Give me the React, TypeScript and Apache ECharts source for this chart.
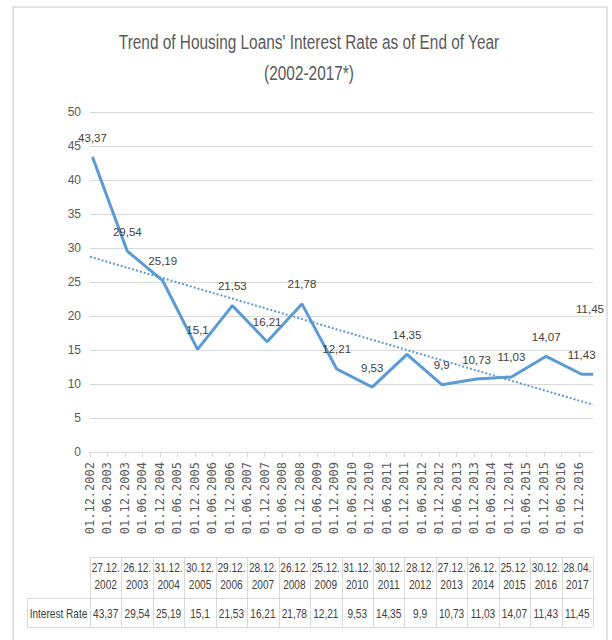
import React, { useEffect, useRef } from "react";
import * as echarts from "echarts";

const TITLE = "Trend of Housing Loans' Interest Rate as of End of Year";
const SUBTITLE = "(2002-2017*)";
const SERIES_NAME = "Interest Rate";
const DATES = [
  "27.12.2002", "26.12.2003", "31.12.2004", "30.12.2005", "29.12.2006", "28.12.2007",
  "26.12.2008", "25.12.2009", "31.12.2010", "30.12.2011", "28.12.2012", "27.12.2013",
  "26.12.2014", "25.12.2015", "30.12.2016", "28.04.2017",
];
const RATES = [43.37, 29.54, 25.19, 15.1, 21.53, 16.21, 21.78, 12.21, 9.53, 14.35, 9.9, 10.73, 11.03, 14.07, 11.43, 11.45];
const TICK_LABELS = [
  "01.12.2002", "01.06.2003", "01.12.2003", "01.06.2004", "01.12.2004", "01.06.2005",
  "01.12.2005", "01.06.2006", "01.12.2006", "01.06.2007", "01.12.2007", "01.06.2008",
  "01.12.2008", "01.06.2009", "01.12.2009", "01.06.2010", "01.12.2010", "01.06.2011",
  "01.12.2011", "01.06.2012", "01.12.2012", "01.06.2013", "01.12.2013", "01.06.2014",
  "01.12.2014", "01.06.2015", "01.12.2015", "01.06.2016", "01.12.2016",
];
const Y_MIN = 0;
const Y_MAX = 50;
const Y_STEP = 5;

const W = 612;
const H = 640;
const GRID_L = 90;
const GRID_R = 593;
const GRID_T = 112;
const GRID_B = 452;
const SANS = "'Liberation Sans', Arial, sans-serif";
const NARROW_SCALE = 0.84;
const TITLE_SCALE = 0.77;
const GRAY_LINE = "#d9d9d9";
const TXT = "#404040";
const AX_TXT = "#595959";
const BLUE = "#5B9BD5";

const dayOf = (s: string) => {
  const [d, m, y] = s.split(".").map(Number);
  return Date.UTC(y, m - 1, d) / 86400000;
};
const fmt = (v: number) => String(v).replace(".", ",");

export default function App() {
  const ref = useRef<HTMLDivElement>(null);
  useEffect(() => {
    document.body.style.margin = "0";
    if (!ref.current) return;
    const chart = echarts.init(ref.current, undefined, { renderer: "svg" });

    const xs = DATES.map(dayOf);
    const tickDays = TICK_LABELS.map(dayOf);
    const labelMap: Record<number, string> = {};
    TICK_LABELS.forEach((t, i) => (labelMap[tickDays[i]] = t));
    const xMin = tickDays[0];
    const xMax = xs[xs.length - 1];

    // least squares linear trend
    const n = xs.length;
    const mx = xs.reduce((a, b) => a + b, 0) / n;
    const my = RATES.reduce((a, b) => a + b, 0) / n;
    let sxy = 0, sxx = 0;
    for (let i = 0; i < n; i++) {
      sxy += (xs[i] - mx) * (RATES[i] - my);
      sxx += (xs[i] - mx) * (xs[i] - mx);
    }
    const slope = sxy / sxx;
    const icpt = my - slope * mx;
    const trend = [xMin, xMax].map((x) => [x, icpt + slope * x]);

    const lineData = xs.map((x, i) => {
      const item: any = { value: [x, RATES[i]] };
      if (i === n - 1) item.label = { offset: [-3, -46] };
      return item;
    });

    const g: any[] = [];
    const ln = (x1: number, y1: number, x2: number, y2: number) =>
      g.push({ type: "line", silent: true, shape: { x1, y1, x2, y2 }, style: { stroke: GRAY_LINE, lineWidth: 1 } });
    const tx = (text: string, x: number, y: number, size: number, fill: string, sx: number) =>
      g.push({
        type: "text", silent: true, x, y, scaleX: sx, scaleY: 1,
        style: { text, fill, fontSize: size, fontFamily: SANS, align: "center", verticalAlign: "middle" },
      });

    // title
    tx(TITLE, 309, 42, 20, AX_TXT, TITLE_SCALE);
    tx(SUBTITLE, 309, 73, 20, AX_TXT, TITLE_SCALE);

    // data table
    const TB_TOP = 557;
    const TB_MID = 598;
    const TB_BOT = 627;
    const HDR_L = 27;
    const colW = (GRID_R - GRID_L) / DATES.length;
    ln(GRID_L, TB_TOP + 0.5, GRID_R, TB_TOP + 0.5);
    ln(HDR_L, TB_MID + 0.5, GRID_R, TB_MID + 0.5);
    ln(HDR_L, TB_BOT + 0.5, GRID_R, TB_BOT + 0.5);
    ln(HDR_L + 0.5, TB_MID, HDR_L + 0.5, TB_BOT);
    for (let i = 0; i <= DATES.length; i++) {
      const x = Math.round(GRID_L + i * colW) + 0.5;
      ln(x, TB_TOP, x, TB_BOT);
    }
    tx(SERIES_NAME, (HDR_L + GRID_L) / 2, (TB_MID + TB_BOT) / 2 + 1, 12, TXT, NARROW_SCALE);
    DATES.forEach((d, i) => {
      const cx = GRID_L + (i + 0.5) * colW;
      tx(d.slice(0, 6), cx, 568, 12, TXT, NARROW_SCALE);
      tx(d.slice(6), cx, 585, 12, TXT, NARROW_SCALE);
      tx(fmt(RATES[i]), cx, (TB_MID + TB_BOT) / 2 + 1, 12, TXT, NARROW_SCALE);
    });
    // outer chart border
    g.push({
      type: "rect", silent: true,
      shape: { x: 13, y: 7, width: 594, height: 660 },
      style: { fill: "none", stroke: "#d9d9d9", lineWidth: 1.5 },
    });

    chart.setOption({
      animation: false,
      backgroundColor: "#ffffff",
      grid: { left: GRID_L, top: GRID_T, width: GRID_R - GRID_L, height: GRID_B - GRID_T },
      xAxis: {
        type: "value",
        min: xMin,
        max: xMax,
        axisLine: { show: true, lineStyle: { color: GRAY_LINE, width: 1 } },
        axisTick: { show: true, length: 5, lineStyle: { color: GRAY_LINE }, customValues: tickDays },
        axisLabel: {
          rotate: 90,
          customValues: tickDays,
          formatter: (v: number) => labelMap[Math.round(v)] ?? "",
          color: AX_TXT,
          fontSize: 12,
          fontFamily: "'DejaVu Sans Mono', monospace",
          margin: 10,
        },
        splitLine: { show: false },
      },
      yAxis: {
        type: "value",
        min: Y_MIN,
        max: Y_MAX,
        interval: Y_STEP,
        axisLine: { show: false },
        axisTick: { show: false },
        axisLabel: { color: AX_TXT, fontSize: 12, fontFamily: SANS, margin: 9 },
        splitLine: { lineStyle: { color: GRAY_LINE, width: 1 } },
      },
      series: [
        {
          name: SERIES_NAME,
          type: "line",
          data: lineData,
          symbol: "circle",
          symbolSize: 1,
          itemStyle: { color: BLUE },
          lineStyle: { color: BLUE, width: 3 },
          label: {
            show: true,
            position: "top",
            distance: 13,
            color: TXT,
            fontSize: 11.5,
            fontFamily: SANS,
            formatter: (p: any) => fmt(p.value[1]),
          },
          z: 2,
        },
        {
          name: "trend",
          type: "line",
          data: trend,
          symbol: "none",
          silent: true,
          lineStyle: { color: BLUE, width: 2, type: [2, 2] },
          z: 3,
        },
      ],
      graphic: g,
    });
    return () => chart.dispose();
  }, []);
  return <div ref={ref} style={{ width: W, height: H }} />;
}
